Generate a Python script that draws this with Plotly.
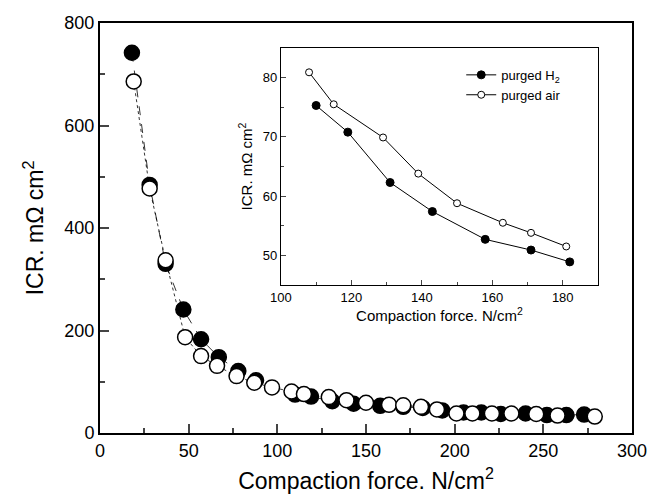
import plotly.graph_objects as go

# Main chart data
force_h2 = [18, 28, 37, 47, 57, 67, 78, 88, 110, 119, 131, 143, 158, 171, 182, 193, 205, 215, 226, 240, 252, 263, 273]
icr_h2 = [742, 484, 330, 241, 183, 148, 121, 103, 75, 71, 62, 57, 53, 51, 49, 44, 40, 40, 37, 38, 35, 35, 36]
force_air = [19, 28, 37, 48, 57, 66, 77, 87, 97, 108, 115, 129, 139, 150, 163, 171, 181, 190, 201, 210, 221, 232, 246, 258, 279]
icr_air = [686, 477, 337, 187, 150, 131, 111, 98, 89, 81, 76, 70, 64, 59, 55, 54, 51, 46, 38, 38, 38, 38, 37, 34, 32]

# Inset data
inset_h2_x = [110, 119, 131, 143, 158, 171, 182]
inset_h2_y = [75.3, 70.8, 62.3, 57.4, 52.7, 50.9, 48.9]
inset_air_x = [108, 115, 129, 139, 150, 163, 171, 181]
inset_air_y = [80.9, 75.5, 69.9, 63.8, 58.8, 55.5, 53.8, 51.5]

FONT = "Arial, Liberation Sans, sans-serif"

fig = go.Figure()

fig.add_trace(go.Scatter(
    x=force_h2, y=icr_h2, mode="lines+markers", showlegend=False,
    line=dict(color="black", width=0.8, dash="dash"),
    marker=dict(symbol="circle", size=15, color="black", line=dict(color="black", width=1.5)),
    xaxis="x", yaxis="y"))
fig.add_trace(go.Scatter(
    x=force_air, y=icr_air, mode="lines+markers", showlegend=False,
    line=dict(color="black", width=0.8, dash="dot"),
    marker=dict(symbol="circle", size=15, color="white", line=dict(color="black", width=1.5)),
    xaxis="x", yaxis="y"))

fig.add_trace(go.Scatter(
    x=inset_h2_x, y=inset_h2_y, mode="lines+markers", name="purged H<sub>2</sub>",
    line=dict(color="black", width=1),
    marker=dict(symbol="circle", size=8, color="black", line=dict(color="black", width=1)),
    xaxis="x2", yaxis="y2"))
fig.add_trace(go.Scatter(
    x=inset_air_x, y=inset_air_y, mode="lines+markers", name="purged air",
    line=dict(color="black", width=1),
    marker=dict(symbol="circle", size=7, color="white", line=dict(color="black", width=1)),
    xaxis="x2", yaxis="y2"))

fig.update_layout(
    width=648, height=501,
    margin=dict(l=100, r=16, t=23, b=68, autoexpand=False),
    paper_bgcolor="white", plot_bgcolor="white",
    font=dict(family=FONT, color="black"),
    showlegend=True,
    legend=dict(x=0.679, y=0.91, xanchor="left", yanchor="top",
                bgcolor="rgba(0,0,0,0)", font=dict(size=13, family=FONT),
                itemwidth=30, tracegroupgap=2),
    xaxis=dict(
        range=[0, 300], dtick=50, tick0=0, ticks="inside", ticklen=9, tickwidth=1.5,
        showline=True, linecolor="black", linewidth=2, mirror=True,
        showgrid=False, zeroline=False, automargin=False,
        tickfont=dict(size=18),
        minor=dict(dtick=25, ticks="inside", ticklen=5, tickwidth=1.5, showgrid=False),
        title=dict(text="Compaction force. N/cm<sup>2</sup>", font=dict(size=23), standoff=13),
    ),
    yaxis=dict(
        range=[0, 800], dtick=200, tick0=0, ticks="inside", ticklen=9, tickwidth=1.5,
        showline=True, linecolor="black", linewidth=2, mirror=True,
        showgrid=False, zeroline=False, automargin=False,
        tickfont=dict(size=18),
        minor=dict(dtick=100, ticks="inside", ticklen=5, tickwidth=1.5, showgrid=False),
        title=dict(text="ICR. m\u03a9 cm<sup>2</sup>", font=dict(size=23), standoff=14),
    ),
    xaxis2=dict(
        domain=[0.340, 0.936], anchor="y2",
        range=[100, 190], dtick=20, tick0=100, ticks="inside", ticklen=5, tickwidth=1,
        showline=True, linecolor="black", linewidth=1.2, mirror=True,
        showgrid=False, zeroline=False, automargin=False,
        tickfont=dict(size=13),
        minor=dict(dtick=10, ticks="inside", ticklen=3, tickwidth=1, showgrid=False),
        title=dict(text="Compaction force. N/cm<sup>2</sup>", font=dict(size=15), standoff=6),
    ),
    yaxis2=dict(
        domain=[0.361, 0.939], anchor="x2",
        range=[45, 85], dtick=10, tick0=50, ticks="inside", ticklen=5, tickwidth=1,
        showline=True, linecolor="black", linewidth=1.2, mirror=True,
        showgrid=False, zeroline=False, automargin=False,
        tickfont=dict(size=13),
        minor=dict(dtick=5, ticks="inside", ticklen=3, tickwidth=1, showgrid=False),
        title=dict(text="ICR. m\u03a9 cm<sup>2</sup>", font=dict(size=15), standoff=6),
    ),
)

fig.write_html("out.html", config={"displayModeBar": False},
               post_script="document.body.style.margin='0';")
